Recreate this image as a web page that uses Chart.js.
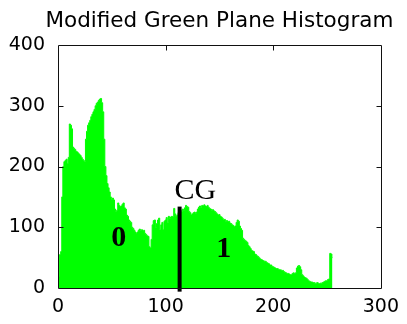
<!DOCTYPE html>
<html>
<head>
<meta charset="utf-8">
<script src="https://cdn.jsdelivr.net/npm/chart.js@4.4.1/dist/chart.umd.min.js"></script>
<style>
  html, body { margin: 0; padding: 0; background: #fff; }
  canvas { display: block; }
</style>
</head>
<body>
<canvas id="histChart" width="407" height="324"></canvas>
<script>
// histogram counts for gray levels 0..255
const counts = [
    15, 18, 55, 60, 150, 200, 208, 210, 212, 205,
    215, 270, 268, 262, 232, 230, 228, 225, 224, 222,
    220, 218, 215, 212, 210, 208, 245, 258, 268, 272,
    276, 282, 286, 290, 294, 300, 304, 306, 309, 311,
    312, 305, 290, 245, 200, 185, 172, 165, 158, 150,
    146, 148, 145, 130, 126, 128, 140, 136, 134, 135,
    138, 140, 132, 130, 120, 118, 112, 110, 108, 100,
    98, 95, 92, 90, 92, 95, 97, 94, 96, 92,
    95, 90, 88, 86, 85, 68, 66, 80, 104, 111,
    112, 100, 106, 112, 115, 96, 104, 108, 96, 110,
    112, 116, 108, 118, 114, 117, 118, 117, 131, 122,
    118, 120, 124, 127, 128, 126, 130, 128, 132, 136,
    134, 133, 126, 124, 120, 122, 124, 125, 123, 125,
    130, 133, 135, 132, 136, 135, 137, 135, 134, 136,
    133, 131, 130, 128, 129, 127, 126, 124, 122, 120,
    121, 118, 117, 115, 112, 113, 110, 111, 109, 110,
    107, 106, 104, 103, 101, 102, 108, 112, 110, 102,
    98, 95, 82, 80, 78, 77, 75, 70, 68, 65,
    62, 61, 60, 56, 55, 53, 52, 50, 48, 47,
    46, 45, 44, 44, 42, 41, 40, 38, 38, 36,
    35, 34, 33, 32, 32, 31, 30, 30, 28, 29,
    27, 26, 25, 24, 24, 23, 22, 22, 24, 25,
    24, 25, 33, 36, 37, 35, 30, 22, 20, 18,
    17, 16, 14, 12, 11, 10, 10, 9, 9, 8,
    8, 9, 8, 7, 8, 8, 9, 10, 11, 12,
    12, 14, 15, 57, 56, 50
];
const grayLevels = counts.map((_, i) => i);

// threshold line (CG)
const cgLevel = 113;
const cgRange = [-6, 134];

const xTicks = [0, 100, 200, 300];
const yTicks = [0, 100, 200, 300, 400];

const titleText = 'Modified Green Plane Histogram';

// text marks: label, gray level, count, bold
const noteLabels = ['0', '1', 'CG'];
const noteX = [56.5, 154, 127.6];
const noteY = [82, 64, 160];
const noteBold = [true, true, false];

const framePlugin = {
    id: 'frame',
    afterDatasetsDraw(chart) {
        const ctx = chart.ctx;
        const a = chart.chartArea;
        const sx = chart.scales.x, sy = chart.scales.y;
        const L = Math.round(a.left) + 0.5, R = Math.round(a.right) + 0.5;
        const T = Math.round(a.top) + 0.5, B = Math.round(a.bottom) + 0.5;
        ctx.save();
        ctx.strokeStyle = '#111';
        ctx.lineWidth = 1;
        ctx.beginPath();
        ctx.rect(L, T, R - L, B - T);
        // inward tick marks
        yTicks.slice(1, -1).forEach(v => {
            const py = Math.round(sy.getPixelForValue(v)) + 0.5;
            ctx.moveTo(L, py); ctx.lineTo(L + 5, py);
            ctx.moveTo(R, py); ctx.lineTo(R - 5, py);
        });
        xTicks.slice(1, -1).forEach(v => {
            const px = Math.round(sx.getPixelForValue(v)) + 0.5;
            ctx.moveTo(px, T); ctx.lineTo(px, T + 5);
        });
        ctx.stroke();

        // annotations
        ctx.fillStyle = '#000';
        ctx.textAlign = 'center';
        ctx.textBaseline = 'middle';
        noteLabels.forEach((t, i) => {
            ctx.font = (noteBold[i] ? 'bold ' : '') + '30px "Liberation Serif"';
            ctx.fillText(t, sx.getPixelForValue(noteX[i]), sy.getPixelForValue(noteY[i]));
        });

        // title
        ctx.font = '21.5px "DejaVu Sans"';
        ctx.fillText(titleText, (a.left + a.right) / 2, 21);
        ctx.restore();
    }
};

const tickFont = { family: 'DejaVu Sans', size: 19 };

new Chart(document.getElementById('histChart').getContext('2d'), {
    type: 'line',
    data: {
        datasets: [{
            label: 'CG',
            data: cgRange.map(v => ({ x: cgLevel, y: v })),
            borderColor: '#000',
            borderWidth: 4,
            pointRadius: 0,
            fill: false,
            clip: false,
            order: 0
        }, {
            label: 'histogram',
            data: counts.map((c, i) => ({ x: grayLevels[i], y: c })),
            stepped: 'middle',
            fill: 'origin',
            backgroundColor: '#00ff00',
            borderColor: '#00ff00',
            borderWidth: 1,
            pointRadius: 0,
            order: 1
        }]
    },
    options: {
        responsive: false,
        devicePixelRatio: 1,
        animation: false,
        layout: { padding: { top: 45, right: 20, left: 0, bottom: 0 } },
        scales: {
            x: {
                type: 'linear',
                min: 0,
                max: 300,
                afterBuildTicks: s => { s.ticks = xTicks.map(v => ({ value: v })); },
                ticks: { color: '#000', font: tickFont, padding: 8, maxRotation: 0 },
                grid: { display: false, drawTicks: false },
                border: { display: false },
                afterFit: s => { s.height = 36; }
            },
            y: {
                min: 0,
                max: 400,
                afterBuildTicks: s => { s.ticks = yTicks.map(v => ({ value: v })); },
                ticks: { color: '#000', font: tickFont, padding: 13 },
                grid: { display: false, drawTicks: false },
                border: { display: false },
                afterFit: s => { s.width = 58; }
            }
        },
        plugins: {
            legend: { display: false },
            tooltip: { enabled: false },
            title: { display: false }
        }
    },
    plugins: [framePlugin]
});
</script>
</body>
</html>
